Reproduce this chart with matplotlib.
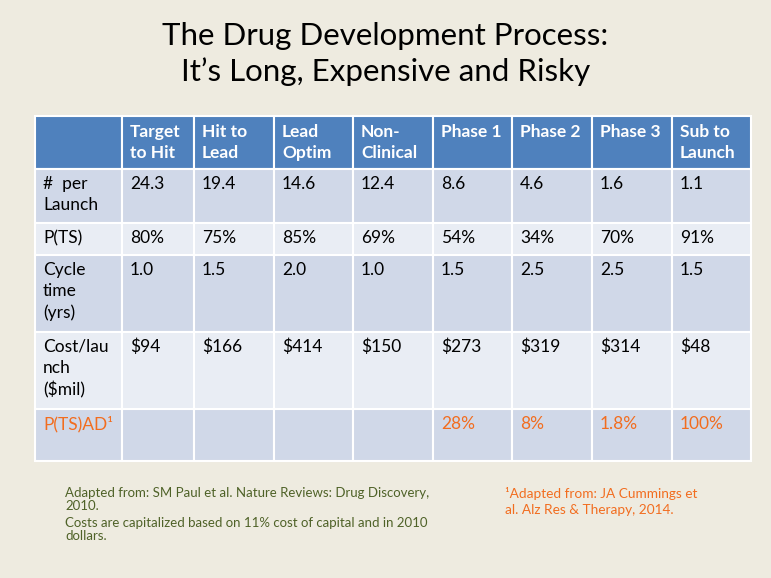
import matplotlib.pyplot as plt
from matplotlib.patches import Rectangle

plt.rcParams['font.family'] = ['Lato', 'DejaVu Sans']

# table content
stages = ['Target\nto Hit', 'Hit to\nLead', 'Lead\nOptim', 'Non-\nClinical',
          'Phase 1', 'Phase 2', 'Phase 3', 'Sub to\nLaunch']
rowLabels = ['#  per\nLaunch', 'P(TS)', 'Cycle\ntime\n(yrs)', 'Cost/lau\nnch\n($mil)', 'P(TS)AD\u00b9']
perLaunch = ['24.3', '19.4', '14.6', '12.4', '8.6', '4.6', '1.6', '1.1']
pts = ['80%', '75%', '85%', '69%', '54%', '34%', '70%', '91%']
cycleTime = ['1.0', '1.5', '2.0', '1.0', '1.5', '2.5', '2.5', '1.5']
costLaunch = ['$94', '$166', '$414', '$150', '$273', '$319', '$314', '$48']
ptsAD = ['', '', '', '', '28%', '8%', '1.8%', '100%']

title = 'The Drug Development Process:\nIt\u2019s Long, Expensive and Risky'
noteLeft = ['Adapted from: SM Paul et al. Nature Reviews: Drug Discovery,\n2010.',
            'Costs are capitalized based on 11% cost of capital and in 2010\ndollars.']
noteRight = '\u00b9Adapted from: JA Cummings et\nal. Alz Res & Therapy, 2014.'

# layout (pixels)
colEdges = [35, 122, 194, 274, 353, 433, 512, 592, 672, 751]
rowEdges = [116, 169, 223, 255, 332, 409, 461]
bg = '#EEEBE0'
headerColor = '#4F81BD'
darkRow = '#D0D8E8'
lightRow = '#E9EDF4'
orange = '#F26D1F'
noteGreen = '#4F6228'

fig = plt.figure(figsize=(7.71, 5.78), dpi=100, facecolor=bg)
ax = fig.add_axes([0, 0, 1, 1])
ax.set_xlim(0, 771)
ax.set_ylim(578, 0)
ax.axis('off')

ax.text(385.5, 22, title, ha='center', va='top', fontsize=22.5, linespacing=1.3, color='black')

rows = [perLaunch, pts, cycleTime, costLaunch, ptsAD]
fs = 12.5
ls = 1.4
for r in range(len(rowEdges) - 1):
    y0, y1 = rowEdges[r], rowEdges[r + 1]
    if r == 0:
        color = headerColor
    elif r % 2 == 1:
        color = darkRow
    else:
        color = lightRow
    for c in range(len(colEdges) - 1):
        x0, x1 = colEdges[c], colEdges[c + 1]
        ax.add_patch(Rectangle((x0, y0), x1 - x0, y1 - y0, facecolor=color,
                               edgecolor='white', linewidth=1.5))
        if r == 0:
            label = stages[c - 1] if c > 0 else ''
            ax.text(x0 + 8, y0 + 8, label, ha='left', va='top', fontsize=fs,
                    fontweight='bold', color='white', linespacing=ls)
        else:
            txtColor = orange if r == 5 else 'black'
            label = rowLabels[r - 1] if c == 0 else rows[r - 1][c - 1]
            ax.text(x0 + 8, y0 + 7, label, ha='left', va='top', fontsize=fs,
                    color=txtColor, linespacing=ls)

ax.text(65, 487, noteLeft[0], ha='left', va='top', fontsize=9.5, color=noteGreen, linespacing=1.1)
ax.text(65, 517, noteLeft[1], ha='left', va='top', fontsize=9.5, color=noteGreen, linespacing=1.1)
ax.text(505, 487, noteRight, ha='left', va='top', fontsize=9.8, color=orange, linespacing=1.35)

fig.savefig('out.png', dpi=100, facecolor=bg)
